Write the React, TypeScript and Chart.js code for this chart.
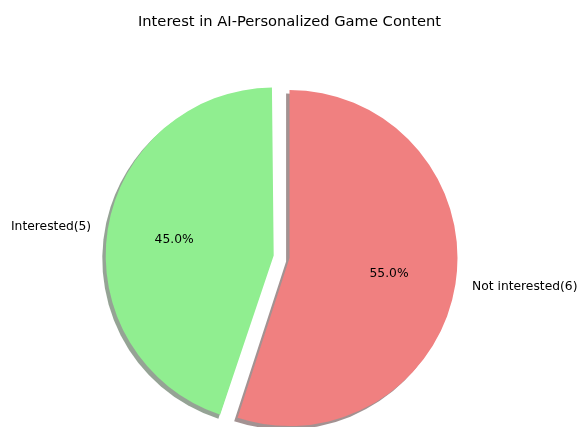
import React, { useEffect, useRef } from "react";
import { Chart, registerables } from "chart.js";

Chart.register(...registerables);

// ---- data ----
const categories = ["Interested(5)", "Not interested(6)"];
const percentValues = [45, 55];
const sliceColors = ["#90EE90", "#F08080"];
const explodePx = [16, 0];
const chartTitle = "Interest in AI-Personalized Game Content";

// ---- style constants ----
const W = 579;
const H = 427;
const RADIUS = 168;
const SHADOW_OFF = 3.4;
const FONT = "'DejaVu Sans', sans-serif";

function hexToRgb(hex: string) {
  const n = parseInt(hex.slice(1), 16);
  return [(n >> 16) & 255, (n >> 8) & 255, n & 255];
}

const piePlugin = {
  id: "mplPie",
  afterDatasetsUpdate(chart: any) {
    const meta = chart.getDatasetMeta(0);
    meta.data.forEach((el: any, i: number) => {
      const off = explodePx[i] || 0;
      const circ = el.endAngle - el.startAngle;
      const fix = 1 - Math.sin(Math.min(Math.PI, circ));
      el.outerRadius = RADIUS - off * fix;
    });
  },
  beforeDatasetsDraw(chart: any) {
    const ctx = chart.ctx;
    const meta = chart.getDatasetMeta(0);
    meta.data.forEach((el: any, i: number) => {
      const mid = (el.startAngle + el.endAngle) / 2;
      const off = explodePx[i] || 0;
      const cx = el.x + Math.cos(mid) * off - SHADOW_OFF;
      const cy = el.y + Math.sin(mid) * off + SHADOW_OFF;
      const [r, g, b] = hexToRgb(sliceColors[i]);
      ctx.save();
      ctx.fillStyle = `rgba(${Math.round(r * 0.3)},${Math.round(g * 0.3)},${Math.round(b * 0.3)},0.5)`;
      ctx.beginPath();
      ctx.moveTo(cx, cy);
      ctx.arc(cx, cy, RADIUS, el.startAngle, el.endAngle);
      ctx.closePath();
      ctx.fill();
      ctx.restore();
    });
  },
  afterDatasetsDraw(chart: any) {
    const ctx = chart.ctx;
    const meta = chart.getDatasetMeta(0);
    const total = percentValues.reduce((a, b) => a + b, 0);
    meta.data.forEach((el: any, i: number) => {
      const mid = (el.startAngle + el.endAngle) / 2;
      const off = explodePx[i] || 0;
      const cx = el.x + Math.cos(mid) * off;
      const cy = el.y + Math.sin(mid) * off;
      ctx.save();
      ctx.fillStyle = "#000";
      ctx.font = `12.3px ${FONT}`;
      ctx.textBaseline = "middle";
      // outer label
      const lx = cx + Math.cos(mid) * RADIUS * 1.1;
      const ly = cy + Math.sin(mid) * RADIUS * 1.1;
      ctx.textAlign = Math.cos(mid) < 0 ? "right" : "left";
      ctx.fillText(categories[i], lx, ly);
      // percentage
      const px = cx + Math.cos(mid) * RADIUS * 0.6;
      const py = cy + Math.sin(mid) * RADIUS * 0.6;
      ctx.textAlign = "center";
      ctx.fillText(((percentValues[i] / total) * 100).toFixed(1) + "%", px, py);
      ctx.restore();
    });
  },
};

export default function App() {
  const ref = useRef<HTMLCanvasElement | null>(null);
  useEffect(() => {
    if (!ref.current) return;
    const chart = new Chart(ref.current, {
      type: "pie",
      data: {
        labels: categories,
        datasets: [
          {
            data: percentValues,
            backgroundColor: sliceColors,
            borderWidth: 0,
            offset: explodePx.map((v) => v * 4),
          },
        ],
      },
      options: {
        responsive: false,
        animation: false,
        devicePixelRatio: 1,
        rotation: 198,
        radius: RADIUS,
        layout: { padding: 0 },
        plugins: {
          legend: { display: false },
          tooltip: { enabled: false },
          title: {
            display: true,
            text: chartTitle,
            color: "#000",
            font: { family: FONT, size: 14.7, weight: "normal" },
            padding: { top: 13.2, bottom: 58.2 },
          },
        },
      },
      plugins: [piePlugin],
    });
    return () => chart.destroy();
  }, []);
  return (
    <div style={{ position: "fixed", left: 0, top: 0, width: W, height: H, background: "#fff" }}>
      <canvas ref={ref} width={W} height={H} style={{ display: "block" }} />
    </div>
  );
}
